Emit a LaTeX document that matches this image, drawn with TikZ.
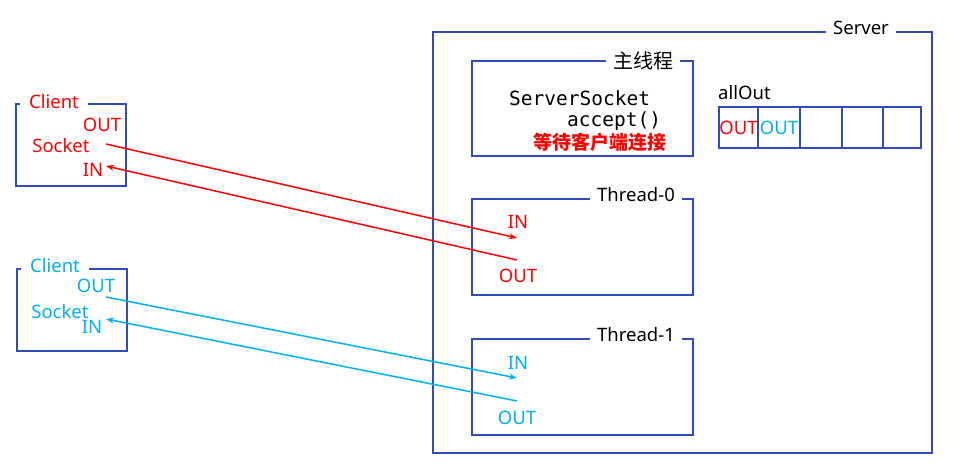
\documentclass[tikz,border=0pt]{standalone}
\usepackage{fontspec}
\setmainfont{Noto Sans}
\setmonofont{DejaVu Sans Mono}
\newfontfamily\cjkfont{Noto Sans CJK SC}
\usetikzlibrary{arrows.meta}
\definecolor{boxblue}{RGB}{47,75,190}
\definecolor{sockred}{RGB}{255,0,0}
\definecolor{sockcyan}{RGB}{0,176,240}

\begin{document}
\begin{tikzpicture}[x=1pt,y=-1pt,
  frame/.style={draw=boxblue, line width=2pt},
  tag/.style={fill=white, inner xsep=7pt, inner ysep=1pt, font=\fontsize{18.5}{20}\selectfont},
  lbl/.style={inner sep=0pt, font=\fontsize{18.5}{20}\selectfont},
  code/.style={inner sep=0pt, font=\ttfamily\fontsize{19.5}{21}\selectfont},
  link/.style={line width=1.5pt, -{Stealth[length=8pt,width=6pt]}}]
  \useasboundingbox (0,0) rectangle (966,473);

  % Server frame
  \draw[frame] (433,32) rectangle (932,453);
  \node[tag] (server) at (861,28) {Server};

  % Main thread
  \draw[frame] (472,61) rectangle (693,156);
  \node[tag, font=\cjkfont\fontsize{20}{22}\selectfont] (mainthr) at (643,61) {主线程};
  \node[code, anchor=west] (ssock) at (509,98) {ServerSocket};
  \node[code, anchor=west] (accept) at (567,121) {accept()};
  \node[lbl, text=sockred, font=\cjkfont\bfseries\fontsize{19}{21}\selectfont] (wait) at (600,142) {等待客户端连接};

  % allOut list
  \node[lbl, anchor=west] (allout) at (718,93) {allOut};
  \foreach \xa/\xb [count=\i] in {719/758, 758/800, 800/842, 842/883, 883/921}
    \draw[frame] (\xa,107) rectangle (\xb,148);
  \node[lbl, text=sockred] (slot1) at (738.5,128) {OUT};
  \node[lbl, text=sockcyan] (slot2) at (779,128) {OUT};

  % Thread-0
  \draw[frame] (472,199) rectangle (693,295);
  \node[tag] (thr0) at (636,195) {Thread-0};
  \node[lbl, text=sockred] (t0in) at (518,222) {IN};
  \node[lbl, text=sockred] (t0out) at (518,276) {OUT};
  \coordinate (t0inpt) at (517,238);
  \coordinate (t0outpt) at (517,260);

  % Thread-1
  \draw[frame] (472,339) rectangle (693,435);
  \node[tag] (thr1) at (636,335) {Thread-1};
  \node[lbl, text=sockcyan] (t1in) at (518,363) {IN};
  \node[lbl, text=sockcyan] (t1out) at (517,418) {OUT};
  \coordinate (t1inpt) at (517,378);
  \coordinate (t1outpt) at (517,401);

  % Client (red)
  \draw[frame] (16,104) rectangle (126,186);
  \node[tag, text=sockred, inner xsep=9pt] (cli0) at (54,102) {Client};
  \node[lbl, text=sockred] (c0out) at (102,125) {OUT};
  \node[lbl, text=sockred] (c0sock) at (61,146) {Socket};
  \node[lbl, text=sockred] (c0in) at (93,170) {IN};
  \coordinate (c0outpt) at (106,144);
  \coordinate (c0inpt) at (106,166);

  % Client (cyan)
  \draw[frame] (17,269) rectangle (127,351);
  \node[tag, text=sockcyan, inner xsep=9pt] (cli1) at (55,266) {Client};
  \node[lbl, text=sockcyan] (c1out) at (96,286) {OUT};
  \node[lbl, text=sockcyan] (c1sock) at (60,312) {Socket};
  \node[lbl, text=sockcyan] (c1in) at (92,327) {IN};
  \coordinate (c1outpt) at (106,297);
  \coordinate (c1inpt) at (106,319);

  % Socket streams
  \draw[link, sockred] (c0outpt) -- (t0inpt);
  \draw[link, sockred] (t0outpt) -- (c0inpt);
  \draw[link, sockcyan] (c1outpt) -- (t1inpt);
  \draw[link, sockcyan] (t1outpt) -- (c1inpt);
\end{tikzpicture}
\end{document}
